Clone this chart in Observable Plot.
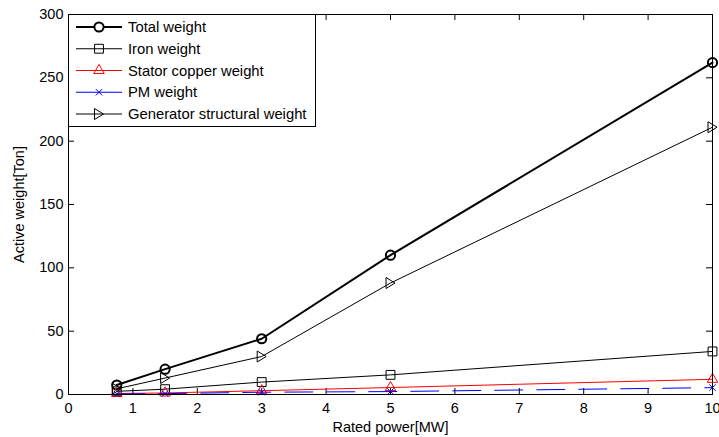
<!DOCTYPE html>
<html><head><meta charset="utf-8">
<script src="https://cdn.jsdelivr.net/npm/d3@7"></script>
<script src="https://cdn.jsdelivr.net/npm/@observablehq/plot@0.6"></script>
<style>
body{margin:0;background:#fff;font-family:"Liberation Sans",Arial,sans-serif;}
#wrap{position:relative;width:719px;height:437px;}
#legend{position:absolute;left:68px;top:14px;}
</style></head><body><div id="wrap"></div>
<script>
// ---- data ----
const ratedPower = [0.75, 1.5, 3, 5, 10];
const totalWeight = [7.5, 20, 44, 110, 262];
const ironWeight = [2.5, 4.2, 9.8, 15.5, 34];
const copperWeight = [0.8, 1.2, 3, 5.5, 12];
const pmWeight = [0.4, 0.7, 1.8, 2.3, 5.4];
const structuralWeight = [4.5, 13, 30, 88, 211];
const seriesNames = ["Total weight", "Iron weight", "Stator copper weight", "PM weight", "Generator structural weight"];
const xTicks = [0, 1, 2, 3, 4, 5, 6, 7, 8, 9, 10];
const yTicks = [0, 50, 100, 150, 200, 250, 300];
const xLabel = "Rated power[MW]";
const yLabel = "Active weight[Ton]";

// right-pointing triangle symbol
const triRight = {draw(ctx, size) {
  const r = Math.sqrt(size / Math.PI);
  ctx.moveTo(-0.9 * r, -1.1 * r);
  ctx.lineTo(0.9 * r, 0);
  ctx.lineTo(-0.9 * r, 1.1 * r);
  ctx.closePath();
}};

const styles = [
  {values: totalWeight, stroke: "#000", sw: 2, symbol: "circle", r: 4.6, msw: 2},
  {values: ironWeight, stroke: "#000", sw: 1, symbol: "square", r: 5, msw: 1},
  {values: copperWeight, stroke: "#ff0000", sw: 1, symbol: "triangle", r: 3.9, msw: 1},
  {values: pmWeight, stroke: "#0000ff", sw: 1, symbol: "times", r: 3, msw: 1, dash: "28,14"},
  {values: structuralWeight, stroke: "#000", sw: 1, symbol: triRight, r: 5, msw: 1}
];

const W = 719, H = 437, mL = 68, mR = 7, mT = 14, mB = 43;
const pw = W - mL - mR, ph = H - mT - mB, tk = 6;

const marks = [];
styles.forEach((s, i) => {
  const rows = ratedPower.map((x, j) => ({series: seriesNames[i], x, y: s.values[j]}));
  marks.push(Plot.line(rows, {x: "x", y: "y", stroke: s.stroke, strokeWidth: s.sw, strokeDasharray: s.dash}));
  marks.push(Plot.dot(rows, {x: "x", y: "y", symbol: s.symbol, r: s.r, stroke: s.stroke, strokeWidth: s.msw, fill: "none"}));
});

const chart = Plot.plot({
  width: W, height: H,
  marginLeft: mL, marginRight: mR, marginTop: mT, marginBottom: mB,
  style: {fontFamily: "'Liberation Sans', Arial, sans-serif", fontSize: "14.5px", color: "#000", background: "#fff", overflow: "visible"},
  x: {domain: [0, 10]},
  y: {domain: [0, 300]},
  marks: [
    Plot.axisX({ticks: xTicks, tickSize: 0, tickPadding: 8, fontSize: 14.5, label: xLabel, labelAnchor: "center", labelOffset: 37, labelArrow: "none"}),
    Plot.axisY({ticks: yTicks, tickSize: 0, tickPadding: 5, fontSize: 14.5, label: yLabel, labelAnchor: "center", labelOffset: 55, labelArrow: "none"}),
    Plot.tickX(xTicks, {x: d => d, insetTop: ph - tk, stroke: "#000"}),
    Plot.tickX(xTicks, {x: d => d, insetBottom: ph - tk, stroke: "#000"}),
    Plot.tickY(yTicks, {y: d => d, insetRight: pw - tk, stroke: "#000"}),
    Plot.tickY(yTicks, {y: d => d, insetLeft: pw - tk, stroke: "#000"}),
    ...marks,
    Plot.frame({stroke: "#000", strokeWidth: 1})
  ]
});
document.getElementById("wrap").appendChild(chart);

// ---- legend (inside axes, top-left) ----
const LW = 248, LH = 113;
const leg = d3.create("svg").attr("id", "legend").attr("width", LW).attr("height", LH)
  .style("font-family", "'Liberation Sans', Arial, sans-serif").style("font-size", "14.8px");
leg.append("rect").attr("x", 0.5).attr("y", 0.5).attr("width", LW - 1).attr("height", LH - 1)
  .attr("fill", "#fff").attr("stroke", "#000");
const symMap = {circle: d3.symbolCircle, square: d3.symbolSquare, triangle: d3.symbolTriangle, times: d3.symbolTimes};
styles.forEach((s, i) => {
  const cy = 13 + i * 21.75;
  const g = leg.append("g");
  g.append("line").attr("x1", 8).attr("x2", 54).attr("y1", cy).attr("y2", cy)
    .attr("stroke", s.stroke).attr("stroke-width", s.sw);
  const sym = typeof s.symbol === "string" ? symMap[s.symbol] : s.symbol;
  g.append("path").attr("transform", `translate(31,${cy})`)
    .attr("d", d3.symbol(sym, s.r * s.r * Math.PI)())
    .attr("fill", s.symbol === "circle" ? "#fff" : "none").attr("stroke", s.stroke).attr("stroke-width", s.msw);
  g.append("text").attr("x", 60).attr("y", cy).attr("dy", "0.35em").text(seriesNames[i]);
});
document.getElementById("wrap").appendChild(leg.node());
</script></body></html>
